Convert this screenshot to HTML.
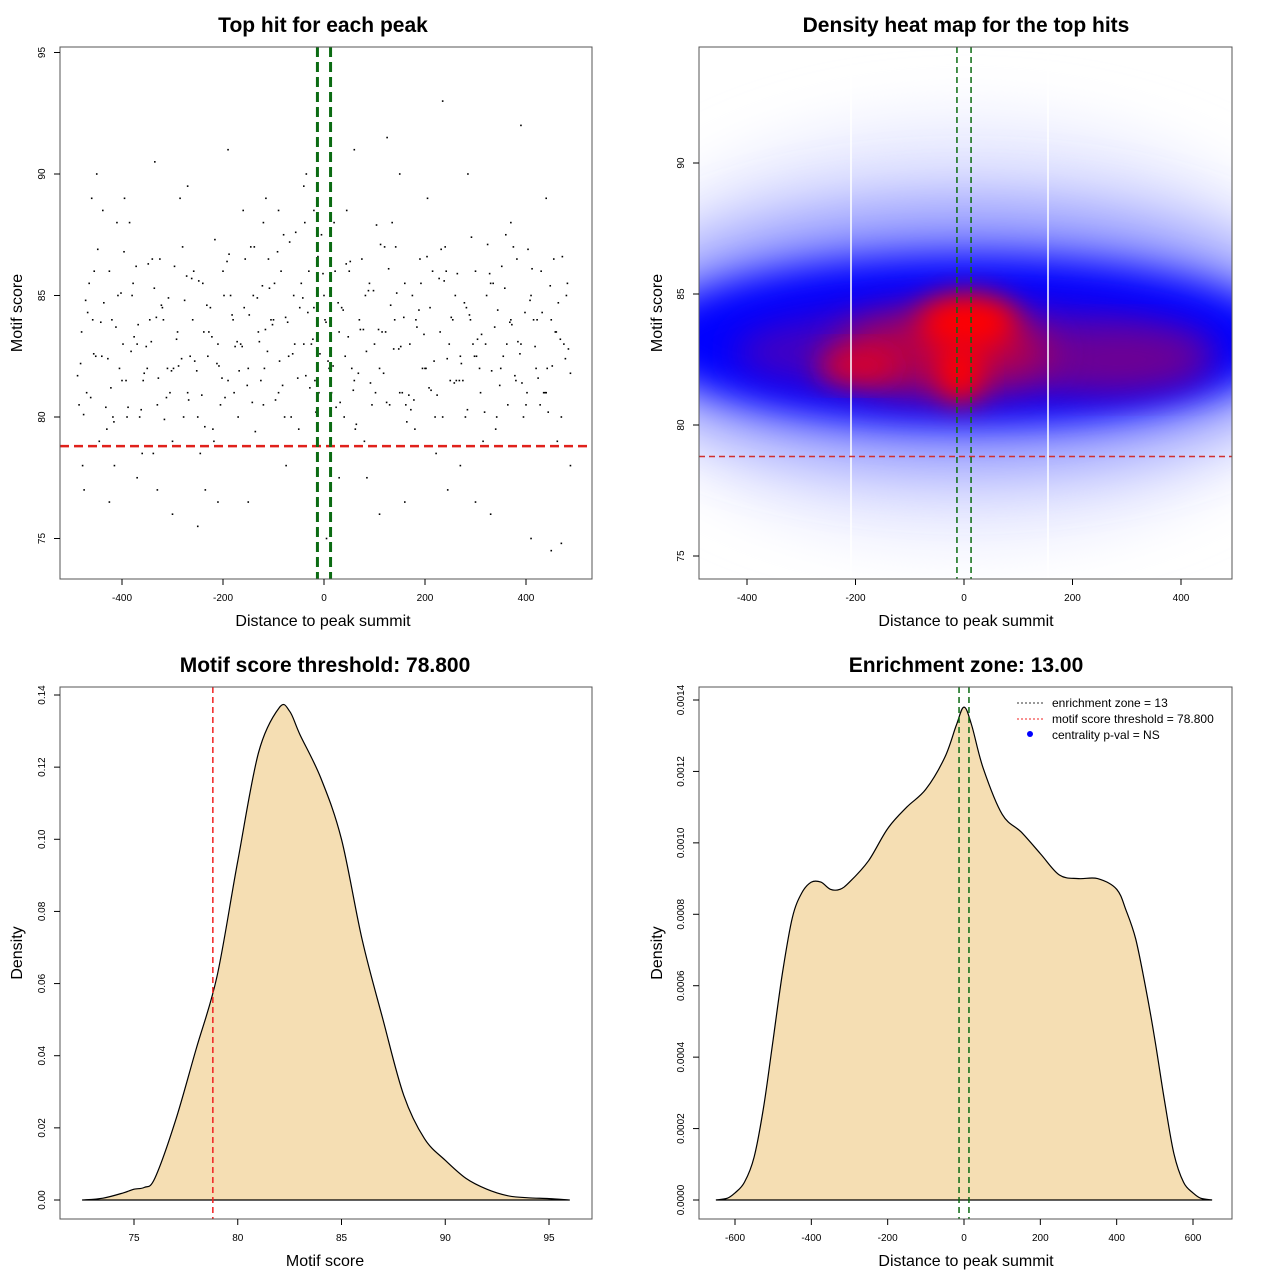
<!DOCTYPE html>
<html><head><meta charset="utf-8"><style>
html,body{margin:0;padding:0;background:#fff}
svg{display:block;font-family:"Liberation Sans",Arial,sans-serif}
</style></head><body>
<svg id="c" width="1280" height="1280" viewBox="0 0 1280 1280" xmlns="http://www.w3.org/2000/svg">
<defs>
<filter id="b1" x="-50%" y="-50%" width="200%" height="200%"><feGaussianBlur stdDeviation="30"/></filter>
<filter id="b2" x="-50%" y="-50%" width="200%" height="200%"><feGaussianBlur stdDeviation="18"/></filter>
<filter id="b3" x="-50%" y="-50%" width="200%" height="200%"><feGaussianBlur stdDeviation="14"/></filter>
<clipPath id="hc"><rect x="699" y="47" width="533" height="532"/></clipPath>
</defs>
</svg>
<script>
// ---------- data ----------
const scatterX=[-480,-470,-455,-440,-430,-420,-410,-400,-390,-380,-370,-360,-350,-340,-330,-320,-310,-300,-290,-280,-270,-260,-250,-240,-230,-220,-210,-200,-190,-180,-170,-160,-150,-140,-130,-120,-110,-100,-90,-80,-70,-60,-50,-40,-30,-20,-10,0,10,20,30,40,50,60,70,80,90,100,110,120,130,140,150,160,170,180,190,200,210,220,230,240,250,260,270,280,290,300,310,320,330,340,350,360,370,380,390,400,410,420,430,440,450,460,470,480,
-485,-465,-445,-425,-405,-385,-365,-345,-325,-305,-285,-265,-245,-225,-205,-185,-165,-145,-125,-105,-85,-65,-45,-25,-5,15,35,55,75,95,115,135,155,175,195,215,235,255,275,295,315,335,355,375,395,415,435,455,475,
-478,-458,-438,-418,-398,-378,-358,-338,-318,-298,-278,-258,-238,-218,-198,-178,-158,-138,-118,-98,-78,-58,-38,-18,2,22,42,62,82,102,122,142,162,182,202,222,242,262,282,302,322,342,362,382,402,422,442,462,482,
-475,-450,-425,-395,-370,-335,-300,-270,-235,-190,-150,-115,-75,-35,5,45,85,125,160,205,245,285,330,370,410,450,488,-460,-330,-210,-90,30,150,270,390,-250,-40,60,300,440,-415,-120,110,235,470,-20,
-482,-462,-442,-422,-402,-382,-362,-342,-322,-302,-282,-262,-242,-222,-202,-182,-162,-142,-122,-102,-82,-62,-42,-22,-2,18,38,58,78,98,118,138,158,178,198,218,238,258,278,298,318,338,358,378,398,418,438,458,478,
-472,-452,-432,-412,-392,-372,-352,-332,-312,-292,-272,-252,-232,-212,-192,-172,-152,-132,-112,-92,-72,-52,-32,-12,8,28,48,68,88,108,128,148,168,188,208,228,248,268,288,308,328,348,368,388,408,428,448,468,488,
-488,-468,-448,-428,-408,-388,-368,-348,-328,-308,-288,-268,-248,-228,-208,-188,-168,-148,-128,-108,-88,-68,-48,-28,-8,12,32,52,72,92,112,132,152,172,192,212,232,252,272,292,312,332,352,372,392,412,432,452,472,
-476,-456,-436,-416,-396,-376,-356,-336,-316,-296,-276,-256,-236,-216,-196,-176,-156,-136,-116,-96,-76,-56,-36,-16,4,24,44,64,84,104,124,144,164,184,204,224,244,264,284,304,324,344,364,384,404,424,444,464,484];
const scatterY=[83.5,81,86,82.5,79.5,84,88,81.5,80,85,83,78.5,82,86.5,80.5,84.5,82,79,83.5,87,81,84,80,85.5,82.5,79.5,83,86,81.5,84,80,88.5,82,85,83.5,80.5,86.5,84,81,87.5,82.5,85,79.5,83,86,84.5,81,85,82,88,83.5,80,86,81.5,84,79,85.5,83,82,87,80.5,84,81,85.5,83,79.5,86.5,82,84.5,80,83.5,87,81.5,85,82.5,80,84,86,81,83,85.5,79.5,82,87.5,84,81.5,83,80.5,85,82,86,81,84,83.5,80,85,
80.5,85.5,79,86,82,88,80,84,86.5,81,89,82.5,78.5,84.5,80.5,85,83,87,81.5,84,86,80,85.5,83,87.5,81,84.5,82,86.5,80.5,83.5,88,81,85,82,86,80,84,81.5,83,79,85.5,82.5,87,80,84,81,86.5,83,
78,84,88.5,80,83,85.5,81.5,78.5,84,82,80,86,83.5,79,85,81,84.5,87,82,85.5,80,83,88,81.5,84,86,82.5,79.5,85,81,83.5,87,80.5,84,82,78.5,86,81.5,84.5,82.5,85,80,83,86.5,81,84,82,79,85.5,
77,90,76.5,89,77.5,90.5,76,89.5,77,91,76.5,89,78,90,75,88.5,77.5,91.5,76.5,89,77,90,76,88,75,74.5,78,89,77,76.5,88.5,77.5,90,78,92,75.5,89.5,91,76.5,89,78,88,76,93,74.8,88.5,
82.2,80.8,83.9,81.2,85.1,82.7,80.3,83.1,84.6,81.9,82.4,85.7,80.9,83.3,81.6,84.2,82.9,80.6,85.4,83.8,81.3,82.6,84.9,83.2,85.9,82.1,84.4,81.1,83.6,85.2,81.8,82.8,84.1,80.7,83.4,82.3,85.6,81.4,84.7,82.5,80.2,83.7,85.3,81.7,84.3,82.9,81,83.5,82.4,
84.8,82.5,80.4,83.7,81.5,86.2,82.9,84.1,80.8,83.2,85.8,81.9,84.6,82.2,86.4,83.1,81.3,84.9,82.7,86.8,83.9,81.6,84.3,86.6,82.3,84.7,83.3,81.8,85.2,83.6,86.1,82.8,80.9,84.4,81.2,85.7,83,81.5,84.2,82,85.9,81.3,83.9,82.6,84.8,80.5,85.4,83.2,81.8,
81.7,84.3,86.9,82.4,85,80.4,83.8,86.3,81.6,84.9,82.1,80.7,85.6,83.5,82.1,86.7,81.9,84.2,83.1,85.3,82.3,87.2,84.5,81.2,82.6,85.8,80.6,86.4,83.6,81.4,87.1,84.6,82.9,80.3,85.5,81.1,86.9,84.1,82.2,87.4,83.4,81.9,86.2,83.8,81.4,86.1,84.3,82.1,86.6,
80.1,82.6,84.7,79.8,86.8,83.3,81.8,85.3,79.9,86.2,84.8,82.3,79.6,87.3,80.8,82.9,86.5,79.4,83.6,80.7,84.1,87.6,81.7,80.2,83.9,80.4,86.3,79.7,82.7,87.9,80.6,85.1,79.8,83.7,86.6,80.9,82.4,85.9,80.3,83.2,87.1,84.4,80.5,83.1,86.9,81.6,80.2,84.7,82.8];
const heatLabelsX=["-400","-200","0","200","400"];
const dens1X=[72.5,73.5,74.5,75,75.5,76,77,78,79,80,81,82,82.5,83,84,85,86,87,88,89,90,91,92,93,94,95,96];
const dens1Y=[0,0.0005,0.002,0.003,0.0035,0.006,0.022,0.042,0.062,0.094,0.124,0.1365,0.1355,0.129,0.117,0.1,0.072,0.05,0.029,0.017,0.011,0.006,0.003,0.0012,0.0006,0.0004,0];
const dens2X=[-650,-620,-600,-575,-550,-525,-500,-475,-450,-425,-400,-375,-350,-325,-300,-250,-200,-150,-100,-50,-20,0,20,50,100,150,200,250,300,350,400,425,450,475,500,525,550,575,600,620,650];
const dens2Y=[0,0.000005,0.00002,0.00005,0.00012,0.00026,0.00045,0.00064,0.00079,0.00086,0.00089,0.00089,0.00087,0.00087,0.00089,0.00095,0.00104,0.0011,0.00115,0.00124,0.00133,0.00138,0.00133,0.00121,0.00108,0.00103,0.00097,0.00091,0.0009,0.0009,0.00087,0.00081,0.00073,0.0006,0.00045,0.00028,0.00013,0.00005,0.00002,0.000005,0];
const threshold=78.8, zone=13;

// ---------- helpers ----------
const svg=document.getElementById('c');
const NS='http://www.w3.org/2000/svg';
function mk(tag,at,parent){const e=document.createElementNS(NS,tag);for(const k in at)e.setAttribute(k,at[k]);(parent||svg).appendChild(e);return e;}
function txt(s,x,y,size,opts,parent){const e=mk('text',Object.assign({x:x,y:y,'font-size':size,'text-anchor':'middle',fill:'#000'},opts||{}),parent);e.textContent=s;return e;}
function lin(d0,d1,r0,r1){return v=>r0+(v-d0)*(r1-r0)/(d1-d0);}
function smooth(pts){let d='M'+pts[0][0].toFixed(1)+','+pts[0][1].toFixed(1);
for(let i=0;i<pts.length-1;i++){const p0=pts[Math.max(0,i-1)],p1=pts[i],p2=pts[i+1],p3=pts[Math.min(pts.length-1,i+2)];
const c1=[p1[0]+(p2[0]-p0[0])/6,p1[1]+(p2[1]-p0[1])/6],c2=[p2[0]-(p3[0]-p1[0])/6,p2[1]-(p3[1]-p1[1])/6];
d+=' C'+c1[0].toFixed(1)+','+c1[1].toFixed(1)+' '+c2[0].toFixed(1)+','+c2[1].toFixed(1)+' '+p2[0].toFixed(1)+','+p2[1].toFixed(1);}
return d;}

function frame(x0,y0,x1,y1,name){const r=mk('rect',{x:x0,y:y0,width:x1-x0,height:y1-y0,fill:'none',stroke:'#555','stroke-width':1});

}
function xTicks(vals,labels,sx,yb,name){const g=mk('g',{});


vals.forEach((v,i)=>{mk('line',{x1:sx(v),x2:sx(v),y1:yb,y2:yb+6,stroke:'#000'},g);txt(labels[i],sx(v),yb+22,10,{},g);});}
function yTicks(vals,labels,sy,xl,name){const g=mk('g',{});


vals.forEach((v,i)=>{mk('line',{x1:xl,x2:xl-6,y1:sy(v),y2:sy(v),stroke:'#000'},g);txt(labels[i],xl-15,sy(v),10,{transform:`rotate(-90 ${xl-15} ${sy(v)})`},g);});}
function titles(t,cx,ty,xl,xly,yl,ylx,yly,p){
const a=txt(t,cx,ty,21,{'font-weight':'bold'});


const b=txt(xl,cx,xly,16);


const c=txt(yl,ylx,yly,16,{transform:`rotate(-90 ${ylx} ${yly})`});

}

// ---------- panel 1: scatter ----------
{const sx=lin(0,400,324,526), sy=lin(80,90,417,174);
titles('Top hit for each peak',323,32,'Distance to peak summit',626,'Motif score',22,313,'scatter');
const g=mk('g',{});


scatterX.forEach((x,i)=>{const r=mk('rect',{x:sx(x)-0.8,y:sy(scatterY[i])-0.8,width:1.6,height:1.6,fill:'#000'},g);

});
const h=mk('line',{x1:60,x2:592,y1:sy(threshold),y2:sy(threshold),stroke:'#e0211b','stroke-width':2.5,'stroke-dasharray':'9,5'});


[-zone,zone].forEach(z=>{const l=mk('line',{x1:sx(z),x2:sx(z),y1:47,y2:579,stroke:'#0b6b12','stroke-width':3,'stroke-dasharray':'10,5'});

});
frame(60,47,592,579,'scatter-plot-area');
xTicks([-400,-200,0,200,400],heatLabelsX,sx,579,'scatter-x-ticks');
yTicks([75,80,85,90,95],['75','80','85','90','95'],sy,60,'scatter-y-ticks');}

// ---------- panel 2: heat map ----------
{const sx=lin(0,400,964,1181), sy=lin(80,90,425,163);
titles('Density heat map for the top hits',966,32,'Distance to peak summit',626,'Motif score',662,313,'heatmap');
const g=mk('g',{'clip-path':'url(#hc)'});


mk('rect',{x:699,y:47,width:533,height:532,fill:'#fff'},g);
mk('ellipse',{cx:965,cy:330,rx:360,ry:210,fill:'#e6e8ff',filter:'url(#b1)'},g);
mk('ellipse',{cx:965,cy:335,rx:350,ry:135,fill:'#8a90ff',filter:'url(#b1)'},g);
mk('ellipse',{cx:965,cy:340,rx:320,ry:85,fill:'#0000ff',filter:'url(#b2)'},g);
mk('ellipse',{cx:975,cy:352,rx:240,ry:45,fill:'#4400c0',filter:'url(#b2)'},g);
mk('ellipse',{cx:1120,cy:360,rx:90,ry:28,fill:'#700090',filter:'url(#b2)'},g);
mk('ellipse',{cx:945,cy:352,rx:110,ry:40,fill:'#b00050',filter:'url(#b2)'},g);
mk('ellipse',{cx:968,cy:322,rx:50,ry:28,fill:'#ff0000',filter:'url(#b3)'},g);
mk('ellipse',{cx:960,cy:372,rx:22,ry:30,fill:'#ff0000',filter:'url(#b3)'},g);
mk('ellipse',{cx:858,cy:366,rx:40,ry:16,fill:'#e00020',filter:'url(#b3)'},g);
[851,1048].forEach(x=>mk('line',{x1:x,x2:x,y1:47,y2:579,stroke:'#fff','stroke-width':1.5},g));
const h=mk('line',{x1:699,x2:1232,y1:sy(threshold),y2:sy(threshold),stroke:'#d03030','stroke-width':1.5,'stroke-dasharray':'6,4'});


[-zone,zone].forEach(z=>{const l=mk('line',{x1:sx(z),x2:sx(z),y1:47,y2:579,stroke:'#0b6b12','stroke-width':1.5,'stroke-dasharray':'6,4'});

});
frame(699,47,1232,579,'heatmap-plot-area');
xTicks([-400,-200,0,200,400],heatLabelsX,sx,579,'heatmap-x-ticks');
yTicks([75,80,85,90],['75','80','85','90'],sy,699,'heatmap-y-ticks');}

// ---------- panel 3: score density ----------
{const sx=lin(75,95,134,549), sy=lin(0,0.14,1200,695);
titles('Motif score threshold: 78.800',325,672,'Motif score',1266,'Density',22,953,'score-density');
const pts=dens1X.map((x,i)=>[sx(x),sy(dens1Y[i])]);
const p=mk('path',{d:smooth(pts)+' Z',fill:'#f5deb3',stroke:'#000','stroke-width':1.2});


const l=mk('line',{x1:sx(threshold),x2:sx(threshold),y1:687,y2:1219,stroke:'#f02020','stroke-width':1.5,'stroke-dasharray':'6,4'});


frame(60,687,592,1219,'score-density-plot-area');
xTicks([75,80,85,90,95],['75','80','85','90','95'],sx,1219,'score-x-ticks');
yTicks([0,0.02,0.04,0.06,0.08,0.10,0.12,0.14],['0.00','0.02','0.04','0.06','0.08','0.10','0.12','0.14'],sy,60,'score-y-ticks');}

// ---------- panel 4: distance density ----------
{const sx=lin(0,600,964,1193), sy=lin(0,0.0014,1200,700);
titles('Enrichment zone: 13.00',966,672,'Distance to peak summit',1266,'Density',662,953,'distance-density');
const pts=dens2X.map((x,i)=>[sx(x),sy(dens2Y[i])]);
const p=mk('path',{d:smooth(pts)+' Z',fill:'#f5deb3',stroke:'#000','stroke-width':1.2});


[-zone,zone].forEach(z=>{const l=mk('line',{x1:sx(z),x2:sx(z),y1:687,y2:1219,stroke:'#0b6b12','stroke-width':1.5,'stroke-dasharray':'6,4'});

});
frame(699,687,1232,1219,'distance-density-plot-area');
xTicks([-600,-400,-200,0,200,400,600],['-600','-400','-200','0','200','400','600'],sx,1219,'distance-x-ticks');
yTicks([0,0.0002,0.0004,0.0006,0.0008,0.0010,0.0012,0.0014],['0.0000','0.0002','0.0004','0.0006','0.0008','0.0010','0.0012','0.0014'],sy,699,'distance-y-ticks');
const lg=mk('g',{});


mk('line',{x1:1017,x2:1043,y1:703,y2:703,stroke:'#333','stroke-dasharray':'2,2'},lg);
txt('enrichment zone = 13',1052,707,12,{'text-anchor':'start'},lg);
mk('line',{x1:1017,x2:1043,y1:719,y2:719,stroke:'#f02020','stroke-dasharray':'2,2'},lg);
txt('motif score threshold = 78.800',1052,723,12,{'text-anchor':'start'},lg);
mk('circle',{cx:1030,cy:734,r:3,fill:'#0000ff'},lg);
txt('centrality p-val = NS',1052,739,12,{'text-anchor':'start'},lg);}
</script>
</body></html>
